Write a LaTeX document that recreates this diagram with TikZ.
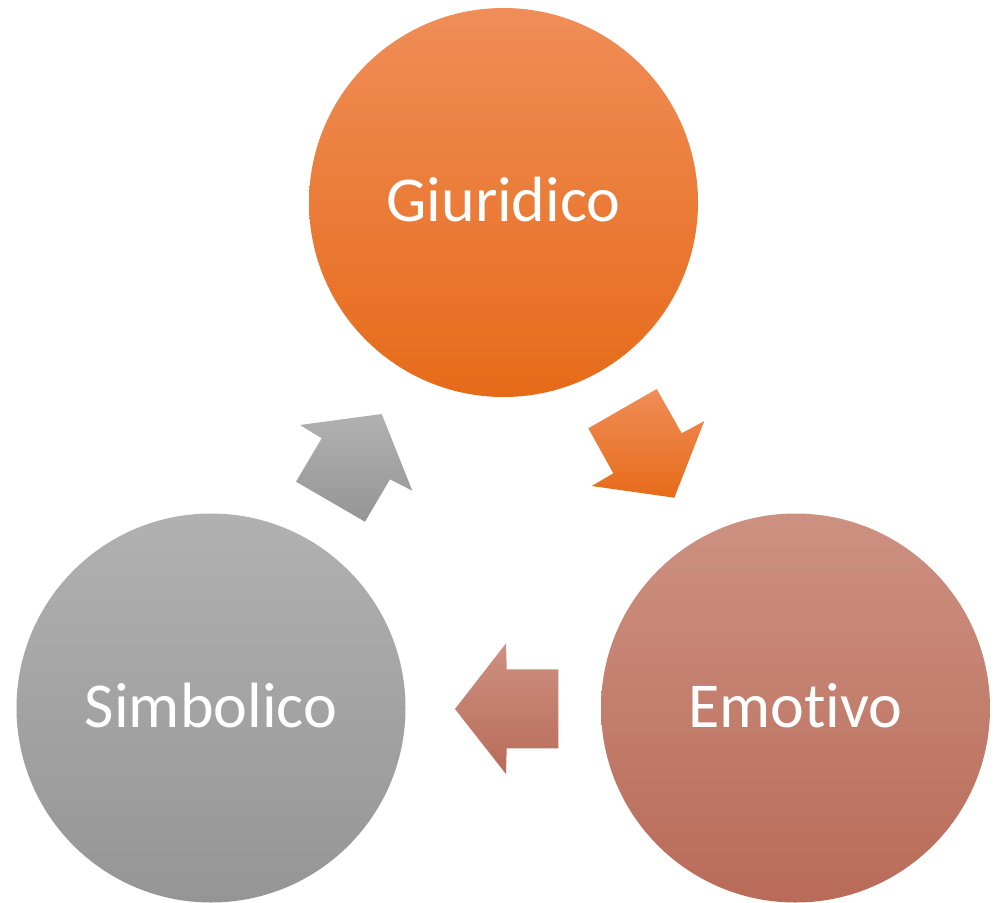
\documentclass[tikz,border=0pt]{standalone}
\usepackage{fontspec}
\setmainfont[Ligatures={NoCommon},RawFeature={-liga,-dlig,-calt}]{Carlito}
\begin{document}
\begin{tikzpicture}[x=1pt,y=-1pt,
  bubble/.style={circle,minimum size=389pt,inner sep=0pt,text=white,
    font=\fontsize{64}{77}\selectfont},
  lbl/.style={anchor=base,text=white,font=\fontsize{64}{77}\selectfont,inner sep=0pt}]
\definecolor{orTop}{HTML}{F08D58}
\definecolor{orMid}{HTML}{F5802F}
\definecolor{orBot}{HTML}{E66B19}
\definecolor{rdTop}{HTML}{CD9182}
\definecolor{rdMid}{HTML}{C67F6D}
\definecolor{rdBot}{HTML}{B96B58}
\definecolor{grTop}{HTML}{B1B1B1}
\definecolor{grMid}{HTML}{A5A5A5}
\definecolor{grBot}{HTML}{959595}
\tikzset{
  orangefill/.style={top color=orTop,middle color=orMid,bottom color=orBot},
  redfill/.style={top color=rdTop,middle color=rdMid,bottom color=rdBot},
  grayfill/.style={top color=grTop,middle color=grMid,bottom color=grBot}}
\useasboundingbox (0,0) rectangle (1000,902);
% circles
\node[bubble,orangefill] (giu) at (503.5,202.5) {};
\node[bubble,redfill] (emo) at (795.5,708) {};
\node[bubble,grayfill] (sim) at (211,708) {};
\node[lbl] (tgiu) at ([yshift=-19pt]giu.center) {Giuridico};
\node[lbl] (temo) at ([yshift=-19pt]emo.center) {Emot\kern0pt ivo};
\node[lbl] (tsim) at ([yshift=-19pt]sim.center) {Simbolico};
% arrows
\shade[orangefill]
  (588.3,428.3) -- (656.7,389) -- (681.7,433.3) -- (704.3,421)
  -- (674.3,497.7) -- (591.7,486) -- (613.3,473.3) -- cycle;
\shade[redfill]
  (455,709) -- (506,643.3) -- (506.7,669.3) -- (558.3,669.3)
  -- (558.3,748.3) -- (506.7,748.3) -- (506,774) -- cycle;
\shade[grayfill]
  (381.7,414) -- (300,425) -- (321.7,438.3) -- (296,481.7)
  -- (365,521.7) -- (390,479.3) -- (412.3,490.7) -- cycle;
\end{tikzpicture}
\end{document}
